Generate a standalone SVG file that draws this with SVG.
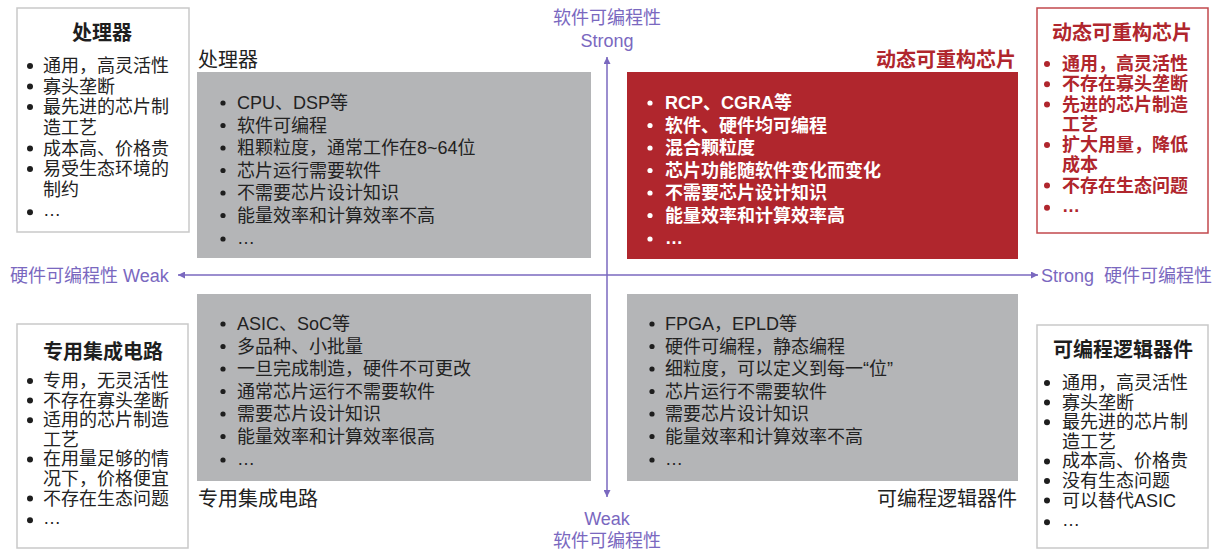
<svg xmlns="http://www.w3.org/2000/svg" width="1221" height="553" viewBox="0 0 1221 553">
<style>
text{font-family:"Liberation Sans","Noto Sans CJK SC",sans-serif;}
.side{fill:#fff;stroke:#c9c9c9;stroke-width:1.5;}
.sideRed{fill:#fff;stroke:#c2484d;stroke-width:1.5;}
.gray{fill:#b4b5b7;}
.red{fill:#b0262d;}
.st{font-size:20px;font-weight:bold;fill:#1e1e1e;text-anchor:middle;}
.stR{font-size:20px;font-weight:bold;fill:#b0262d;text-anchor:middle;}
.s{font-size:18px;fill:#222;}
.sR{font-size:18px;font-weight:bold;fill:#b0262d;}
.q{font-size:18px;fill:#222;}
.qW{font-size:18px;fill:#fff;font-weight:bold;}
.lab{font-size:20px;fill:#222;}
.labR{font-size:20px;fill:#b0262d;font-weight:bold;}
.ax{font-size:18px;fill:#7a68bf;}
.axl{stroke:#7a68bf;stroke-width:1.5;fill:none;}
.d{fill:#1e1e1e;}
.dR{fill:#b0262d;}
.dW{fill:#fff;}
</style>
<defs>
<marker id="arr" viewBox="0 0 10 10" refX="10" refY="5" markerWidth="8" markerHeight="7" markerUnits="userSpaceOnUse" orient="auto">
<path d="M0,0 L10,5 L0,10 z" fill="#7a68bf"/>
</marker>
</defs>

<g id="connectors">
<line class="axl" x1="607" y1="275" x2="178" y2="275" marker-end="url(#arr)"/>
<line class="axl" x1="607" y1="275" x2="1038" y2="275" marker-end="url(#arr)"/>
<line class="axl" x1="607" y1="275" x2="607" y2="57" marker-end="url(#arr)"/>
<line class="axl" x1="607" y1="275" x2="607" y2="497" marker-end="url(#arr)"/>
</g>

<g id="axis-labels">
<text class="ax" x="607" y="24" text-anchor="middle">软件可编程性</text>
<text class="ax" x="607" y="47" text-anchor="middle">Strong</text>
<text class="ax" x="607" y="525" text-anchor="middle">Weak</text>
<text class="ax" x="607" y="547" text-anchor="middle">软件可编程性</text>
<text class="ax" x="10" y="282">硬件可编程性 Weak</text>
<text class="ax" x="1041" y="282" xml:space="preserve">Strong  硬件可编程性</text>
</g>

<g id="processor-side">
<rect class="side" x="17" y="8" width="172" height="224"/>
<text class="st" x="102" y="40">处理器</text>
<circle class="d" cx="30" cy="66" r="3"/>
<circle class="d" cx="30" cy="86.6" r="3"/>
<circle class="d" cx="30" cy="107" r="3"/>
<circle class="d" cx="30" cy="148.5" r="3"/>
<circle class="d" cx="30" cy="169" r="3"/>
<circle class="d" cx="30" cy="212.3" r="3"/>
<text class="s"><tspan x="43" y="72">通用，高灵活性</tspan><tspan x="43" y="92.6">寡头垄断</tspan><tspan x="43" y="113">最先进的芯片制</tspan><tspan x="43" y="134">造工艺</tspan><tspan x="43" y="154.5">成本高、价格贵</tspan><tspan x="43" y="175">易受生态环境的</tspan><tspan x="43" y="195.7">制约</tspan><tspan x="43" y="216.3">…</tspan></text>
</g>

<g id="processor">
<text class="lab" x="198" y="67">处理器</text>
<rect class="gray" x="197" y="72" width="394" height="186"/>
<circle class="d" cx="223" cy="103" r="2.6"/>
<circle class="d" cx="223" cy="125.5" r="2.6"/>
<circle class="d" cx="223" cy="148" r="2.6"/>
<circle class="d" cx="223" cy="170.5" r="2.6"/>
<circle class="d" cx="223" cy="193" r="2.6"/>
<circle class="d" cx="223" cy="215.5" r="2.6"/>
<circle class="d" cx="223" cy="239" r="2.6"/>
<text class="q"><tspan x="237" y="109">CPU、DSP等</tspan><tspan x="237" y="131.5">软件可编程</tspan><tspan x="237" y="154">粗颗粒度，通常工作在8~64位</tspan><tspan x="237" y="176.5">芯片运行需要软件</tspan><tspan x="237" y="199">不需要芯片设计知识</tspan><tspan x="237" y="221.5">能量效率和计算效率不高</tspan><tspan x="237" y="244">…</tspan></text>
</g>

<g id="reconfigurable">
<text class="labR" x="1016" y="67" text-anchor="end">动态可重构芯片</text>
<rect class="red" x="627" y="72" width="391" height="187"/>
<circle class="dW" cx="650" cy="103" r="2.6"/>
<circle class="dW" cx="650" cy="125.5" r="2.6"/>
<circle class="dW" cx="650" cy="148" r="2.6"/>
<circle class="dW" cx="650" cy="170.5" r="2.6"/>
<circle class="dW" cx="650" cy="193" r="2.6"/>
<circle class="dW" cx="650" cy="215.5" r="2.6"/>
<circle class="dW" cx="650" cy="239" r="2.6"/>
<text class="qW"><tspan x="665" y="109">RCP、CGRA等</tspan><tspan x="665" y="131.5">软件、硬件均可编程</tspan><tspan x="665" y="154">混合颗粒度</tspan><tspan x="665" y="176.5">芯片功能随软件变化而变化</tspan><tspan x="665" y="199">不需要芯片设计知识</tspan><tspan x="665" y="221.5">能量效率和计算效率高</tspan><tspan x="665" y="244">…</tspan></text>
</g>

<g id="reconfigurable-side">
<rect class="sideRed" x="1037" y="8" width="171" height="225"/>
<text class="stR" x="1122" y="40">动态可重构芯片</text>
<circle class="dR" cx="1047" cy="64" r="3"/>
<circle class="dR" cx="1047" cy="84.3" r="3"/>
<circle class="dR" cx="1047" cy="104.5" r="3"/>
<circle class="dR" cx="1047" cy="145" r="3"/>
<circle class="dR" cx="1047" cy="185.5" r="3"/>
<circle class="dR" cx="1047" cy="207.7" r="3"/>
<text class="sR"><tspan x="1062" y="70">通用，高灵活性</tspan><tspan x="1062" y="90.3">不存在寡头垄断</tspan><tspan x="1062" y="110.5">先进的芯片制造</tspan><tspan x="1062" y="130.8">工艺</tspan><tspan x="1062" y="151">扩大用量，降低</tspan><tspan x="1062" y="171">成本</tspan><tspan x="1062" y="191.5">不存在生态问题</tspan><tspan x="1062" y="211.7">…</tspan></text>
</g>

<g id="asic">
<rect class="gray" x="197" y="294" width="394" height="187"/>
<circle class="d" cx="223" cy="324" r="2.6"/>
<circle class="d" cx="223" cy="346.5" r="2.6"/>
<circle class="d" cx="223" cy="369" r="2.6"/>
<circle class="d" cx="223" cy="391.5" r="2.6"/>
<circle class="d" cx="223" cy="414" r="2.6"/>
<circle class="d" cx="223" cy="436.5" r="2.6"/>
<circle class="d" cx="223" cy="460" r="2.6"/>
<text class="q"><tspan x="237" y="330">ASIC、SoC等</tspan><tspan x="237" y="352.5">多品种、小批量</tspan><tspan x="237" y="375">一旦完成制造，硬件不可更改</tspan><tspan x="237" y="397.5">通常芯片运行不需要软件</tspan><tspan x="237" y="420">需要芯片设计知识</tspan><tspan x="237" y="442.5">能量效率和计算效率很高</tspan><tspan x="237" y="465">…</tspan></text>
<text class="lab" x="198" y="506">专用集成电路</text>
</g>

<g id="asic-side">
<rect class="side" x="17" y="324" width="171" height="224"/>
<text class="st" x="103" y="359">专用集成电路</text>
<circle class="d" cx="30" cy="381" r="3"/>
<circle class="d" cx="30" cy="400.6" r="3"/>
<circle class="d" cx="30" cy="420.2" r="3"/>
<circle class="d" cx="30" cy="459.4" r="3"/>
<circle class="d" cx="30" cy="498.6" r="3"/>
<circle class="d" cx="30" cy="520.2" r="3"/>
<text class="s"><tspan x="43" y="387">专用，无灵活性</tspan><tspan x="43" y="406.6">不存在寡头垄断</tspan><tspan x="43" y="426.2">适用的芯片制造</tspan><tspan x="43" y="445.8">工艺</tspan><tspan x="43" y="465.4">在用量足够的情</tspan><tspan x="43" y="485">况下，价格便宜</tspan><tspan x="43" y="504.6">不存在生态问题</tspan><tspan x="43" y="524.2">…</tspan></text>
</g>

<g id="fpga">
<rect class="gray" x="627" y="294" width="391" height="187"/>
<circle class="d" cx="652" cy="324" r="2.6"/>
<circle class="d" cx="652" cy="346.5" r="2.6"/>
<circle class="d" cx="652" cy="369" r="2.6"/>
<circle class="d" cx="652" cy="391.5" r="2.6"/>
<circle class="d" cx="652" cy="414" r="2.6"/>
<circle class="d" cx="652" cy="436.5" r="2.6"/>
<circle class="d" cx="652" cy="460" r="2.6"/>
<text class="q"><tspan x="665" y="330">FPGA，EPLD等</tspan><tspan x="665" y="352.5">硬件可编程，静态编程</tspan><tspan x="665" y="375">细粒度，可以定义到每一“位”</tspan><tspan x="665" y="397.5">芯片运行不需要软件</tspan><tspan x="665" y="420">需要芯片设计知识</tspan><tspan x="665" y="442.5">能量效率和计算效率不高</tspan><tspan x="665" y="465">…</tspan></text>
<text class="lab" x="1017" y="506" text-anchor="end">可编程逻辑器件</text>
</g>

<g id="fpga-side">
<rect class="side" x="1037" y="325" width="171" height="223"/>
<text class="st" x="1123" y="357">可编程逻辑器件</text>
<circle class="d" cx="1047" cy="383" r="3"/>
<circle class="d" cx="1047" cy="402.6" r="3"/>
<circle class="d" cx="1047" cy="422.2" r="3"/>
<circle class="d" cx="1047" cy="461.4" r="3"/>
<circle class="d" cx="1047" cy="481" r="3"/>
<circle class="d" cx="1047" cy="500.6" r="3"/>
<circle class="d" cx="1047" cy="522.2" r="3"/>
<text class="s"><tspan x="1062" y="389">通用，高灵活性</tspan><tspan x="1062" y="408.6">寡头垄断</tspan><tspan x="1062" y="428.2">最先进的芯片制</tspan><tspan x="1062" y="447.8">造工艺</tspan><tspan x="1062" y="467.4">成本高、价格贵</tspan><tspan x="1062" y="487">没有生态问题</tspan><tspan x="1062" y="506.6">可以替代ASIC</tspan><tspan x="1062" y="526.2">…</tspan></text>
</g>
</svg>
